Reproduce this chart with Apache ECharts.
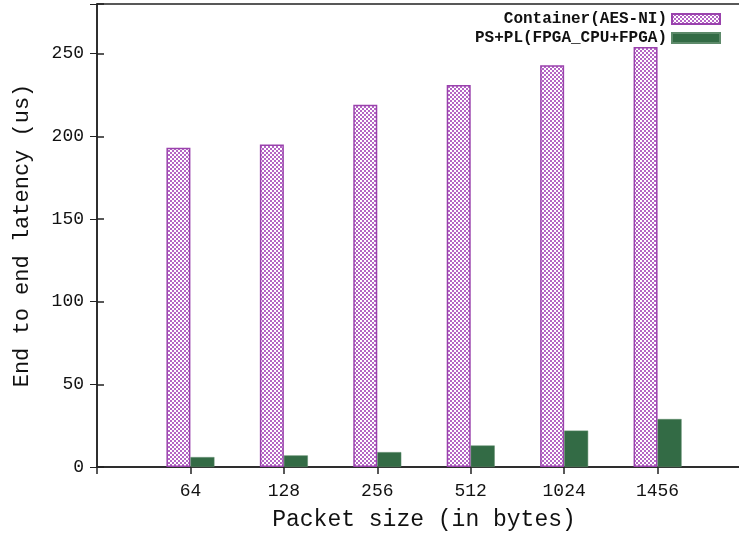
<!DOCTYPE html>
<html>
<head>
<meta charset="utf-8">
<script src="https://cdn.jsdelivr.net/npm/echarts@6/dist/echarts.min.js"></script>
<style>
  html, body { margin: 0; padding: 0; background: #fff; }
  #chart { width: 739px; height: 539px; }
</style>
</head>
<body>
<div id="chart"></div>
<script>
// packet sizes on the x axis
const sizes = ['64', '128', '256', '512', '1024', '1456'];
// latency in us
const container = [193, 195, 219, 231, 243, 254];
const fpga = [6, 7, 9, 13, 22, 29];
const yTicks = [0, 50, 100, 150, 200, 250];

// checkered fill like the gnuplot pattern
const makePattern = () => {
  const c = document.createElement('canvas');
  c.width = 4; c.height = 4;
  const g = c.getContext('2d');
  g.fillStyle = '#b466c4';
  g.fillRect(0, 0, 4, 4);
  g.fillStyle = '#ffffff';
  g.fillRect(0, 0, 2, 2);
  g.fillRect(2, 2, 2, 2);
  return c;
};

const font = '"Liberation Mono", "DejaVu Sans Mono", monospace';
const chart = echarts.init(document.getElementById('chart'));

const option = {
  animation: false,
  textStyle: { fontFamily: font, color: '#111' },
  grid: {
    left: 97, right: -12, top: 4, bottom: 72,
    outerBoundsMode: 'none',
    show: true, borderColor: '#222', borderWidth: 1.5, backgroundColor: 'transparent'
  },
  legend: {
    orient: 'vertical',
    right: 13, top: 6,
    align: 'right',
    icon: 'rect',
    itemWidth: 48, itemHeight: 10, itemGap: 3,
    textStyle: { fontFamily: font, fontSize: 16, fontWeight: 'bold', color: '#111' },
    data: ['Container(AES-NI)', 'PS+PL(FPGA_CPU+FPGA)']
  },
  xAxis: [{
    type: 'value', min: 0, max: 7, interval: 1,
    name: 'Packet size (in bytes)', nameLocation: 'middle', nameGap: 41,
    nameTextStyle: { fontFamily: font, fontSize: 23, color: '#111' },
    axisLine: { lineStyle: { color: '#222', width: 1.5 } },
    axisTick: { show: false },
    splitLine: { show: false },
    axisLabel: {
      margin: 15, fontSize: 18, color: '#111', fontFamily: font,
      formatter: v => (v >= 1 && v <= sizes.length) ? sizes[v - 1] : ''
    }
  }, {
    type: 'value', position: 'top', min: 0, max: 7, interval: 1,
    axisLine: { show: false },
    axisTick: { inside: true, length: 7, lineStyle: { color: '#222', width: 1.5 } },
    axisLabel: { show: false },
    splitLine: { show: false }
  }],
  yAxis: [{
    type: 'value', min: 0, max: 280, interval: 50,
    name: 'End to end latency (us)', nameLocation: 'middle', nameGap: 64,
    nameTextStyle: { fontFamily: font, fontSize: 22, color: '#111' },
    axisLine: { show: true, lineStyle: { color: '#222', width: 1.5 } },
    axisTick: { inside: true, length: 7, lineStyle: { color: '#222', width: 1.5 } },
    splitLine: { show: false },
    axisLabel: {
      margin: 13, fontSize: 18, color: '#111', fontFamily: font,
      formatter: v => yTicks.includes(v) ? String(v) : ''
    }
  }, {
    type: 'value', position: 'right', min: 0, max: 280, interval: 50,
    axisLine: { show: false },
    axisTick: { inside: true, length: 7, lineStyle: { color: '#222' } },
    axisLabel: { show: false },
    splitLine: { show: false }
  }],
  series: [{
    name: 'Container(AES-NI)',
    type: 'bar',
    barWidth: 24, barGap: '0%',
    itemStyle: {
      color: { image: makePattern(), repeat: 'repeat' },
      borderColor: '#9a42ad', borderWidth: 1.5
    },
    data: container.map((v, i) => [i + 1, v])
  }, {
    name: 'PS+PL(FPGA_CPU+FPGA)',
    type: 'bar',
    barWidth: 24, barGap: '0%',
    itemStyle: { color: '#336b45', borderColor: '#5d8a6a', borderWidth: 0.5 },
    data: fpga.map((v, i) => [i + 1, v])
  }]
};

chart.setOption(option);
</script>
</body>
</html>
